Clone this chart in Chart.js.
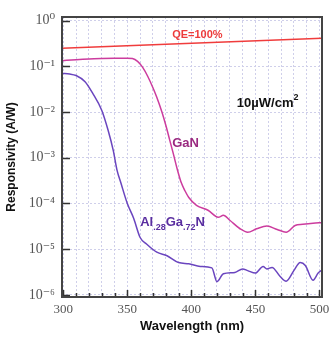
<!DOCTYPE html>
<html>
<head>
<meta charset="utf-8">
<script src="https://cdn.jsdelivr.net/npm/chart.js@4"></script>
<style>
  html, body { margin: 0; padding: 0; background: #fff; }
  #chart { display: block; }
</style>
</head>
<body>
<canvas id="chart" width="330" height="338"></canvas>
<script>
// wavelength ticks (nm) and responsivity decades
const xTicks = [300, 310, 320, 330, 340, 350, 360, 370, 380, 390, 400, 410, 420, 430, 440, 450, 460, 470, 480, 490, 500];
const yTicks = [1e-6, 1e-5, 1e-4, 1e-3, 1e-2, 1e-1, 1];
const yTickLabels = ["10\u207B\u2076", "10\u207B\u2075", "10\u207B\u2074", "10\u207B\u00B3", "10\u207B\u00B2", "10\u207B\u00B9", "10\u2070"];

const qeWavelength = [299, 502];
const qeResp = [0.25, 0.41];

const ganWavelength = [299, 310, 320, 330, 340, 350, 354, 358, 362, 366, 370, 373, 377, 380, 383, 386, 389, 392, 395, 398, 404, 413, 421, 425, 430, 438, 444, 451, 459, 467, 474, 481, 487, 495, 502];
const ganResp = [0.133, 0.140, 0.145, 0.148, 0.150, 0.151, 0.148, 0.128, 0.095, 0.060, 0.034, 0.021, 0.010, 5.2e-3, 2.5e-3, 1.2e-3, 5.6e-4, 2.9e-4, 1.9e-4, 1.35e-4, 9.1e-5, 7.1e-5, 5.0e-5, 5.5e-5, 4.3e-5, 2.8e-5, 2.35e-5, 2.8e-5, 3.2e-5, 2.7e-5, 2.35e-5, 3.3e-5, 3.5e-5, 3.7e-5, 3.8e-5];

const alganWavelength = [299, 305, 310, 317, 323, 330, 335, 339, 342, 345, 350, 355, 360, 365, 373, 381, 390, 398, 407, 416, 420, 425, 434, 440, 444, 450, 456, 459, 463, 469, 474, 480, 485, 489, 495, 499, 502];
const alganResp = [0.070, 0.068, 0.063, 0.046, 0.0256, 0.011, 4.0e-3, 1.45e-3, 5.3e-4, 2.8e-4, 1.0e-4, 4.7e-5, 1.8e-5, 1.3e-5, 8.6e-6, 7.2e-6, 5.1e-6, 4.8e-6, 4.2e-6, 3.9e-6, 1.95e-6, 2.9e-6, 3.1e-6, 3.7e-6, 3.4e-6, 3.0e-6, 4.2e-6, 3.7e-6, 4.0e-6, 2.6e-6, 2.0e-6, 3.4e-6, 5.1e-6, 4.4e-6, 2.1e-6, 3.0e-6, 3.5e-6];

function toPoints(xs, ys) {
    return xs.map((x, i) => ({ x: x, y: ys[i] }));
}

// draws a run of text pieces, some raised or lowered
function drawRich(ctx, x, y, parts, color) {
    ctx.fillStyle = color;
    ctx.textAlign = "left";
    ctx.textBaseline = "middle";
    parts.forEach(p => {
        ctx.font = "bold " + p.size + "px 'Liberation Sans', Arial, sans-serif";
        ctx.fillText(p.t, x, y + (p.dy || 0));
        x += ctx.measureText(p.t).width;
    });
}

const decorations = {
    id: "decorations",
    afterDraw(chart) {
        const ctx = chart.ctx;
        const area = chart.chartArea;
        const xs = chart.scales.x;
        const ys = chart.scales.y;
        ctx.save();

        // inward ticks
        ctx.strokeStyle = "#333";
        ctx.lineWidth = 1.5;
        ctx.beginPath();
        xTicks.forEach(v => {
            const px = Math.round(xs.getPixelForValue(v)) + 0.5;
            const len = v % 50 === 0 ? 7 : 4;
            ctx.moveTo(px, area.bottom);
            ctx.lineTo(px, area.bottom - len);
        });
        yTicks.forEach(v => {
            const py = Math.round(ys.getPixelForValue(v)) + 0.5;
            ctx.moveTo(area.left, py);
            ctx.lineTo(area.left + 8, py);
        });
        ctx.stroke();

        // frame
        ctx.strokeStyle = "#444";
        ctx.lineWidth = 2;
        ctx.strokeRect(area.left, area.top, area.right - area.left, area.bottom - area.top);

        // labels
        drawRich(ctx, xs.getPixelForValue(385), ys.getPixelForValue(0.48),
            [{ t: "QE=100%", size: 11 }], "#ee3b3b");
        drawRich(ctx, xs.getPixelForValue(435.5), ys.getPixelForValue(0.0157),
            [{ t: "10\u00B5W/cm", size: 13 }, { t: "2", size: 9, dy: -6 }], "#111");
        drawRich(ctx, xs.getPixelForValue(385), ys.getPixelForValue(2.1e-3),
            [{ t: "GaN", size: 13 }], "#9a2a80");
        drawRich(ctx, xs.getPixelForValue(360), ys.getPixelForValue(3.9e-5),
            [{ t: "Al", size: 13 }, { t: ".28", size: 9, dy: 5 }, { t: "Ga", size: 13 },
             { t: ".72", size: 9, dy: 5 }, { t: "N", size: 13 }], "#5a2ea0");
        ctx.restore();
    }
};

const gridColor = "#cfcfea";

new Chart(document.getElementById("chart").getContext("2d"), {
    type: "line",
    data: {
        datasets: [
            {
                label: "QE=100%",
                data: toPoints(qeWavelength, qeResp),
                borderColor: "#f03c3c",
                borderWidth: 1.5,
                pointRadius: 0
            },
            {
                label: "GaN",
                data: toPoints(ganWavelength, ganResp),
                borderColor: "#cc3c9e",
                borderWidth: 1.5,
                pointRadius: 0,
                cubicInterpolationMode: "monotone"
            },
            {
                label: "Al.28Ga.72N",
                data: toPoints(alganWavelength, alganResp),
                borderColor: "#6a45bf",
                borderWidth: 1.5,
                pointRadius: 0,
                cubicInterpolationMode: "monotone"
            }
        ]
    },
    options: {
        responsive: false,
        animation: false,
        devicePixelRatio: 1,
        layout: { padding: { top: 17, right: 8, left: 0, bottom: 0 } },
        plugins: {
            legend: { display: false },
            tooltip: { enabled: false }
        },
        scales: {
            x: {
                type: "linear",
                min: 299,
                max: 502,
                afterBuildTicks: scale => { scale.ticks = xTicks.map(v => ({ value: v })); },
                afterFit: scale => { scale.height = 41; scale.paddingLeft = 0; scale.paddingRight = 0; },
                ticks: {
                    autoSkip: false,
                    maxRotation: 0,
                    padding: 5,
                    color: "#555",
                    font: { family: "'Liberation Serif', 'DejaVu Serif', serif", size: 13 },
                    callback: v => (v % 50 === 0 ? String(v) : "")
                },
                grid: { color: gridColor, drawTicks: false, lineWidth: 1 },
                border: { display: false, dash: [2, 2] },
                title: {
                    display: true,
                    text: "Wavelength (nm)",
                    color: "#111",
                    font: { family: "'Liberation Sans', Arial, sans-serif", size: 13, weight: "bold" },
                    padding: { top: 0, bottom: 4 }
                }
            },
            y: {
                type: "logarithmic",
                min: 0.9e-6,
                max: 1.2,
                afterBuildTicks: scale => { scale.ticks = yTicks.map(v => ({ value: v })); },
                afterFit: scale => { scale.width = 62; scale.paddingTop = 0; scale.paddingBottom = 0; },
                ticks: {
                    autoSkip: false,
                    padding: 7,
                    color: "#555",
                    font: { family: "'Liberation Serif', 'DejaVu Serif', serif", size: 14 },
                    callback: (v, i) => yTickLabels[i]
                },
                grid: { color: gridColor, drawTicks: false, lineWidth: 1 },
                border: { display: false, dash: [2, 2] },
                title: {
                    display: true,
                    text: "Responsivity (A/W)",
                    color: "#111",
                    font: { family: "'Liberation Sans', Arial, sans-serif", size: 12, weight: "bold" },
                    padding: { top: 4, bottom: 0 }
                }
            }
        }
    },
    plugins: [decorations]
});
</script>
</body>
</html>
